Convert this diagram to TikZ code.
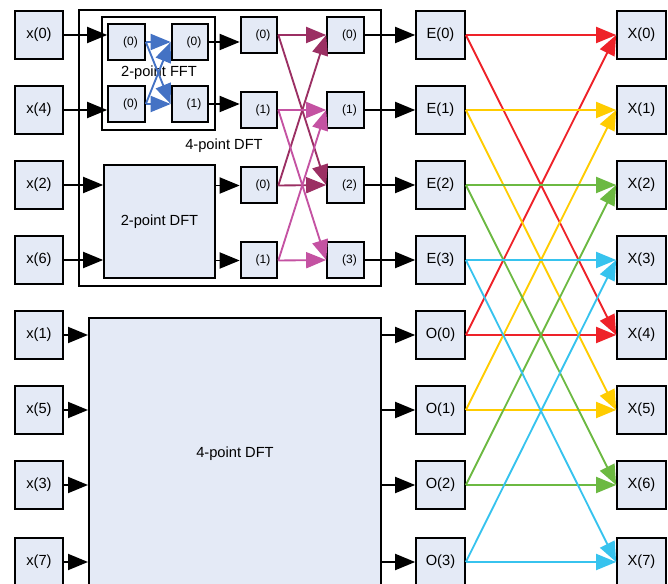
\documentclass[tikz,border=0pt]{standalone}
\usepackage{fontspec}
\setmainfont{Liberation Sans}
\usetikzlibrary{arrows.meta}

\definecolor{boxfill}{HTML}{E4EAF6}
\definecolor{fftblue}{HTML}{4472C4}
\definecolor{bfmaroon}{HTML}{9B2F63}
\definecolor{bfpink}{HTML}{C452A2}
\definecolor{kred}{HTML}{EE2229}
\definecolor{kyellow}{HTML}{FFCC00}
\definecolor{kgreen}{HTML}{6CB942}
\definecolor{kcyan}{HTML}{37C3EE}

\tikzset{
  blk/.style={draw, line width=1.5pt, fill=boxfill, inner sep=0pt,
    minimum width=36.5pt, minimum height=36.5pt, font=\fontsize{11}{13}\selectfont},
  sblk/.style={blk, minimum width=27.5pt, minimum height=27pt,
    font=\fontsize{9}{11}\selectfont, execute at begin node=\hspace*{6pt}},
  arr/.style={line width=1.4pt, -{Triangle[length=15pt,width=12pt]}},
}

\begin{document}
\begin{tikzpicture}[x=0.75pt, y=-0.75pt]
    \useasboundingbox (0,0) rectangle (668,584);

    %% 8-point FFT, decimation in time

    % Frames
    \draw[line width=1.5pt] (79,10) rectangle (381,286);
    \node[font=\fontsize{11}{13}\selectfont] (lbl4) at (224,146) {4-point DFT};
    \draw[line width=1.5pt] (102,17) rectangle (215,130);
    \node[font=\fontsize{11}{13}\selectfont] (lbl2) at (159,73) {2-point FFT};

    % Inputs
    \node[blk] (x0) at (39,35) {x(0)};
    \node[blk] (x4) at (39,110) {x(4)};
    \node[blk] (x2) at (39,185) {x(2)};
    \node[blk] (x6) at (39,260) {x(6)};
    \node[blk] (x1) at (39,335) {x(1)};
    \node[blk] (x5) at (39,410) {x(5)};
    \node[blk] (x3) at (39,485) {x(3)};
    \node[blk] (x7) at (39,562) {x(7)};

    % 2-point FFT
    \node[sblk] (a0) at (126.5,42) {(0)};
    \node[sblk] (a1) at (126.5,104) {(0)};
    \node[sblk] (b0) at (190,42) {(0)};
    \node[sblk] (b1) at (190,104) {(1)};
    \draw[arr] (x0.east) -- (x0.east -| a0.west);
    \draw[arr] (x4.east) -- (x4.east -| a1.west);
    \draw[arr, fftblue] (a0.east) -- (b0.west);
    \draw[arr, fftblue] (a0.east) -- (b1.west);
    \draw[arr, fftblue] (a1.east) -- (b0.west);
    \draw[arr, fftblue] (a1.east) -- (b1.west);

    % 2-point DFT
    \node[blk, minimum width=83pt, minimum height=84.5pt] (dft2) at (159.5,221.5) {2-point DFT};
    \draw[arr] (x2.east) -- (x2.east -| dft2.west);
    \draw[arr] (x6.east) -- (x6.east -| dft2.west);

    % Butterfly stage
    \node[sblk] (c0) at (259,35) {(0)};
    \node[sblk] (c1) at (259,110) {(1)};
    \node[sblk] (c2) at (259,185.5) {(0)};
    \node[sblk] (c3) at (259,260.5) {(1)};
    \node[sblk] (d0) at (345.5,35) {(0)};
    \node[sblk] (d1) at (345.5,110) {(1)};
    \node[sblk] (d2) at (345.5,185) {(2)};
    \node[sblk] (d3) at (345.5,260) {(3)};
    \draw[arr] (b0.east) -- (b0.east -| c0.west);
    \draw[arr] (b1.east) -- (b1.east -| c1.west);
    \draw[arr] (c2.west -| dft2.east) -- (c2.west);
    \draw[arr] (c3.west -| dft2.east) -- (c3.west);
    \draw[arr, bfmaroon] (c0.east) -- (d0.west);
    \draw[arr, bfmaroon] (c0.east) -- (d2.west);
    \draw[arr, bfmaroon] (c2.east) -- (d0.west);
    \draw[arr, bfmaroon] (c2.east) -- (d2.west);
    \draw[arr, bfpink] (c1.east) -- (d1.west);
    \draw[arr, bfpink] (c1.east) -- (d3.west);
    \draw[arr, bfpink] (c3.east) -- (d1.west);
    \draw[arr, bfpink] (c3.east) -- (d3.west);

    % Odd half
    \node[blk, minimum width=219pt, minimum height=204pt] (dft4) at (235,454) {4-point DFT};
    \draw[arr] (x1.east) -- (x1.east -| dft4.west);
    \draw[arr] (x5.east) -- (x5.east -| dft4.west);
    \draw[arr] (x3.east) -- (x3.east -| dft4.west);
    \draw[arr] (x7.east) -- (x7.east -| dft4.west);

    % Even and odd outputs
    \node[blk] (e0) at (440.5,35) {E(0)};
    \node[blk] (e1) at (440.5,110) {E(1)};
    \node[blk] (e2) at (440.5,185) {E(2)};
    \node[blk] (e3) at (440.5,260) {E(3)};
    \node[blk] (o0) at (440.5,335) {O(0)};
    \node[blk] (o1) at (440.5,410) {O(1)};
    \node[blk] (o2) at (440.5,485) {O(2)};
    \node[blk] (o3) at (440.5,562) {O(3)};
    \draw[arr] (d0.east) -- (e0.west);
    \draw[arr] (d1.east) -- (e1.west);
    \draw[arr] (d2.east) -- (e2.west);
    \draw[arr] (d3.east) -- (e3.west);
    \draw[arr] (o0.west -| dft4.east) -- (o0.west);
    \draw[arr] (o1.west -| dft4.east) -- (o1.west);
    \draw[arr] (o2.west -| dft4.east) -- (o2.west);
    \draw[arr] (o3.west -| dft4.east) -- (o3.west);

    % Final outputs
    \node[blk] (X0) at (641.5,35) {X(0)};
    \node[blk] (X1) at (641.5,110) {X(1)};
    \node[blk] (X2) at (641.5,185) {X(2)};
    \node[blk] (X3) at (641.5,260) {X(3)};
    \node[blk] (X4) at (641.5,335) {X(4)};
    \node[blk] (X5) at (641.5,410) {X(5)};
    \node[blk] (X6) at (641.5,485) {X(6)};
    \node[blk] (X7) at (641.5,562) {X(7)};

    % Last butterflies
    \draw[arr, kred] (e0.east) -- (X0.west);
    \draw[arr, kred] (e0.east) -- (X4.west);
    \draw[arr, kred] (o0.east) -- (X0.west);
    \draw[arr, kred] (o0.east) -- (X4.west);
    \draw[arr, kyellow] (e1.east) -- (X1.west);
    \draw[arr, kyellow] (e1.east) -- (X5.west);
    \draw[arr, kyellow] (o1.east) -- (X1.west);
    \draw[arr, kyellow] (o1.east) -- (X5.west);
    \draw[arr, kgreen] (e2.east) -- (X2.west);
    \draw[arr, kgreen] (e2.east) -- (X6.west);
    \draw[arr, kgreen] (o2.east) -- (X2.west);
    \draw[arr, kgreen] (o2.east) -- (X6.west);
    \draw[arr, kcyan] (e3.east) -- (X3.west);
    \draw[arr, kcyan] (e3.east) -- (X7.west);
    \draw[arr, kcyan] (o3.east) -- (X3.west);
    \draw[arr, kcyan] (o3.east) -- (X7.west);

\end{tikzpicture}
\end{document}
